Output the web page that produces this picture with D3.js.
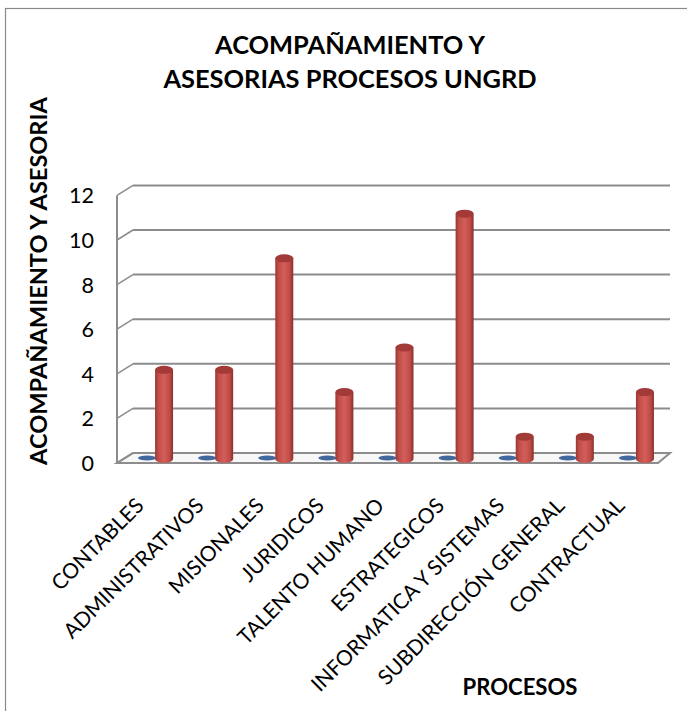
<!DOCTYPE html>
<html><head><meta charset="utf-8">
<script src="https://cdn.jsdelivr.net/npm/d3@7/dist/d3.min.js"></script>
<style>body{margin:0;background:#fff}svg{display:block;font-family:Lato,"Open Sans",sans-serif}</style>
</head><body><svg id="c" width="687" height="711"></svg>
<script>
const categories = ["CONTABLES","ADMINISTRATIVOS","MISIONALES","JURIDICOS","TALENTO HUMANO","ESTRATEGICOS","INFORMATICA Y SISTEMAS","SUBDIRECCIÓN GENERAL","CONTRACTUAL"];
const seriesFront = [0,0,0,0,0,0,0,0,0];
const seriesBack = [4,4,9,3,5,11,1,1,3];
const yTicks = [0,2,4,6,8,10,12];
const title = ["ACOMPAÑAMIENTO Y","ASESORIAS PROCESOS UNGRD"];
const yTitle = "ACOMPAÑAMIENTO Y ASESORIA";
const xTitle = "PROCESOS";

const svg = d3.select("#c");
const defs = svg.append("defs");
const g1 = defs.append("linearGradient").attr("id","cyl").attr("x1","0").attr("x2","1").attr("y1","0").attr("y2","0");
[[0,"#9a3633"],[0.2,"#c24f4b"],[0.5,"#d35d59"],[0.8,"#bf4c48"],[1,"#8a2f2c"]].forEach(s=>g1.append("stop").attr("offset",s[0]).attr("stop-color",s[1]));

// font-size fitter: size so that text measures a target width
function fit(text, weight, target){
  const t = svg.append("text").attr("font-size",20).attr("font-weight",weight).text(text);
  const w = t.node().getComputedTextLength(); t.remove();
  return 20*target/w;
}

// outer frame
svg.append("rect").attr("x",5.5).attr("y",8.5).attr("width",700).attr("height",720).attr("fill","none").attr("stroke","#8a8a8a").attr("stroke-width",1.2);

const x = d3.scaleBand().domain(categories).range([117,658]).padding(0);
const y = d3.scaleLinear().domain([0,12]).range([459,191.4]);
const DX = 16, backOff = -6, frontOff = 4;
const gridCol = "#8c8c8c";

// floor
const f0 = y(0);
svg.append("path").attr("d",`M117,${f0+frontOff}L658,${f0+frontOff}L670,${f0+backOff}L${117+DX},${f0+backOff}Z`).attr("fill","#f7f7f7").attr("stroke",gridCol).attr("stroke-width",2);

// back gridlines and left wall diagonals
const grid = svg.append("g");
yTicks.forEach(v=>{
  grid.append("line").attr("x1",117+DX).attr("x2",670).attr("y1",y(v)+backOff).attr("y2",y(v)+backOff).attr("stroke",gridCol).attr("stroke-width",2);
  grid.append("line").attr("x1",117).attr("x2",117+DX).attr("y1",y(v)+frontOff).attr("y2",y(v)+backOff).attr("stroke",gridCol).attr("stroke-width",1.5);
});
grid.append("line").attr("x1",117).attr("x2",117).attr("y1",y(12)+frontOff).attr("y2",y(0)+frontOff+1).attr("stroke",gridCol).attr("stroke-width",2);

// y tick labels
const tickSize = fit("12","normal",25);
svg.append("g").selectAll("text").data(yTicks).join("text")
  .attr("x",94).attr("y",v=>y(v)+frontOff+8).attr("text-anchor","end")
  .attr("font-size",tickSize).attr("fill","#000").text(v=>v);

// front series (zero values) as flat blue discs
svg.append("g").selectAll("ellipse").data(seriesFront).join("ellipse")
  .attr("cx",(d,i)=>x(categories[i])+x.bandwidth()/2)
  .attr("cy",(d)=>y(d)-1).attr("rx",9).attr("ry",2.5).attr("fill","#41699e");

// back series cylinders
const bw = 18, ry = 4;
const cyl = svg.append("g").selectAll("g").data(seriesBack).join("g");
cyl.each(function(d,i){
  const cx = x(categories[i])+x.bandwidth()/2+17;
  const yt = y(d), yb = y(0);
  const gg = d3.select(this);
  gg.append("path").attr("d",`M${cx-bw/2},${yt}L${cx-bw/2},${yb}A${bw/2},${ry} 0 0 0 ${cx+bw/2},${yb}L${cx+bw/2},${yt}Z`).attr("fill","url(#cyl)");
  gg.append("ellipse").attr("cx",cx).attr("cy",yt).attr("rx",bw/2).attr("ry",ry).attr("fill","#a23b38");
});

// x labels
const labSize = fit("CONTABLES","normal",120);
svg.append("g").selectAll("text").data(categories).join("text")
  .attr("transform",d=>`translate(${x(d)+x.bandwidth()/2-2},${507}) rotate(-45)`)
  .attr("text-anchor","end").attr("font-size",labSize).attr("fill","#000").text(d=>d);

// titles
const tSize = fit(title[0],"bold",270);
svg.append("g").selectAll("text").data(title).join("text")
  .attr("x",350).attr("y",(d,i)=>54+i*34).attr("text-anchor","middle")
  .attr("font-size",tSize).attr("font-weight","bold").attr("fill","#000").text(d=>d);
svg.append("text").attr("transform","translate(47,281) rotate(-90)").attr("text-anchor","middle")
  .attr("font-size",fit(yTitle,"bold",368)).attr("font-weight","bold").attr("fill","#000").text(yTitle);
svg.append("text").attr("x",520).attr("y",695).attr("text-anchor","middle")
  .attr("font-size",fit(xTitle,"bold",115)).attr("font-weight","bold").attr("fill","#000").text(xTitle);
</script></body></html>
